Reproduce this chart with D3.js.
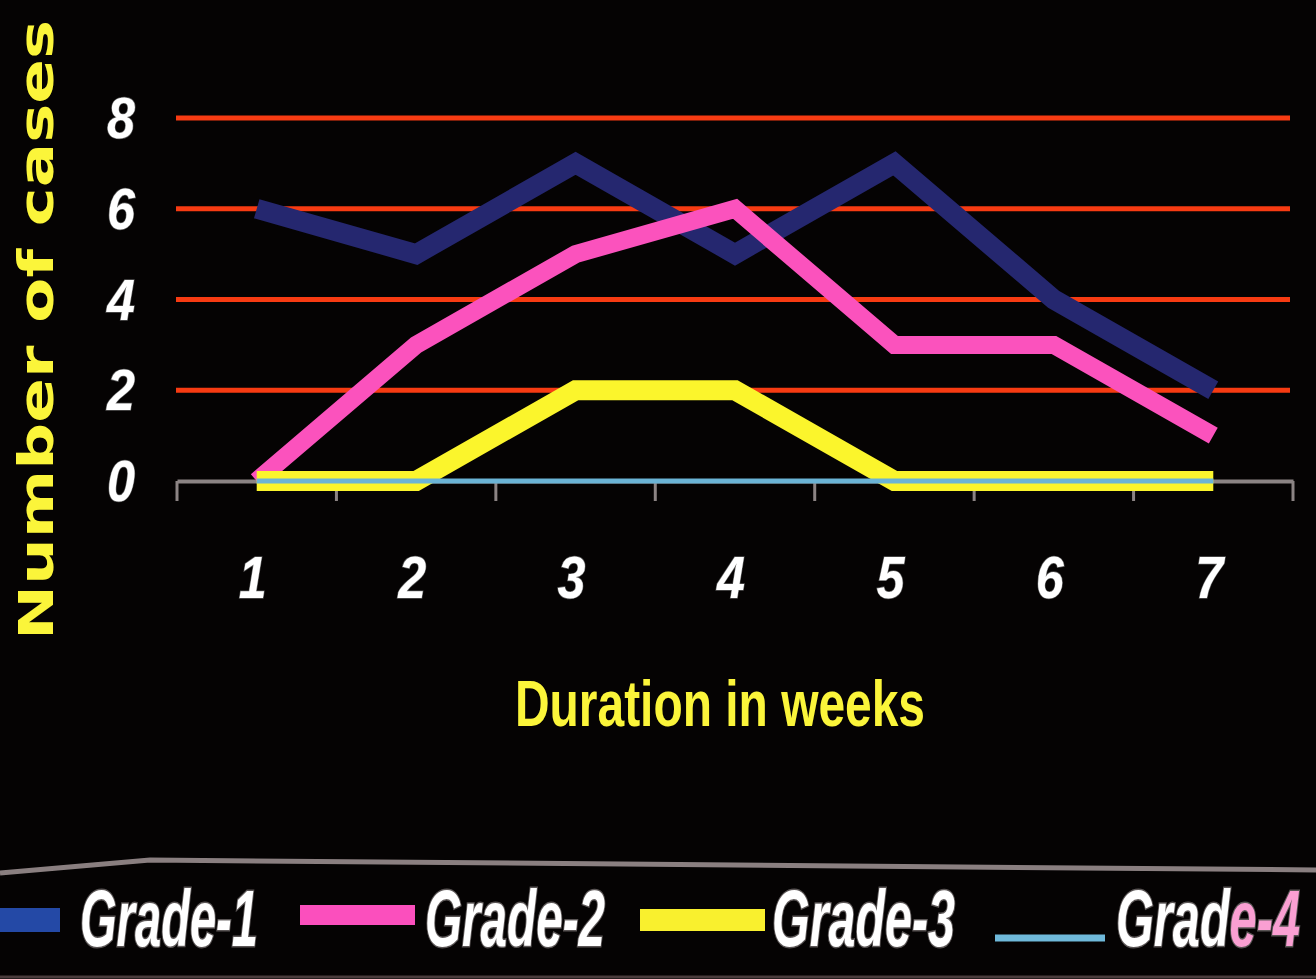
<!DOCTYPE html>
<html>
<head>
<meta charset="utf-8">
<script src="https://cdn.jsdelivr.net/npm/d3@7"></script>
<style>
  html, body { margin: 0; padding: 0; background: #050303; }
  svg { display: block; }
</style>
</head>
<body>
<svg id="chart" width="1316" height="979"></svg>
<script>
// ---- data ----
const weeks = ["1", "2", "3", "4", "5", "6", "7"];
const yTicks = [0, 2, 4, 6, 8];
const seriesNames = ["Grade-1", "Grade-2", "Grade-3", "Grade-4"];
const grade1 = [6, 5, 7, 5, 7, 4, 2];
const grade2 = [0, 3, 5, 6, 3, 3, 1];
const grade3 = [0, 0, 2, 2, 0, 0, 0];
const grade4 = [0, 0, 0, 0, 0, 0, 0];
const xTitle = "Duration in weeks";
const yTitle = "Number of cases";

// ---- styles ----
const lineColors = ["#25276f", "#fb52bd", "#fbf52c", "#6bb4d6"];
const lineWidths = [20, 18, 20, 5];
const legendColors = ["#2449a6", "#fb4fbd", "#f9f02e", "#6fb9da"];
const legendWidths = [24, 20, 22, 7];

const svg = d3.select("#chart");
svg.append("rect").attr("width", 1316).attr("height", 979).attr("fill", "#050303");

const x = d3.scaleBand().domain(weeks).range([177, 1293]).paddingInner(0).paddingOuter(0);
const y = d3.scaleLinear().domain([0, 8]).range([481, 118]);
const cx = d => x(d) + x.bandwidth() / 2;

const FONT = "'Liberation Sans', Arial, Helvetica, sans-serif";

// gridlines
svg.append("g").selectAll("line").data(yTicks.filter(t => t > 0)).join("line")
  .attr("x1", 176).attr("x2", 1290)
  .attr("y1", d => y(d)).attr("y2", d => y(d))
  .attr("stroke", "#f73b12").attr("stroke-width", 5);

// baseline axis
const axisG = svg.append("g").attr("transform", `translate(0,${y(0)})`);
axisG.call(d3.axisBottom(x).tickSize(0).tickFormat(""));
axisG.select(".domain").attr("stroke", "#8c8484").attr("stroke-width", 4);
const edges = weeks.map(w => x(w)).concat([x.range()[1]]);
svg.append("g").selectAll("line").data(edges).join("line")
  .attr("x1", d => d).attr("x2", d => d)
  .attr("y1", y(0)).attr("y2", y(0) + 20)
  .attr("stroke", "#8c8484").attr("stroke-width", 3);

// y tick labels
svg.append("g").selectAll("text").data(yTicks).join("text")
  .attr("x", 121).attr("y", d => y(d) + 20)
  .attr("text-anchor", "middle")
  .attr("textLength", 28).attr("lengthAdjust", "spacingAndGlyphs")
  .attr("font-family", FONT).attr("font-weight", "bold").attr("font-style", "italic")
  .attr("font-size", 58).attr("fill", "#ffffff")
  .attr("stroke", "#555").attr("stroke-width", 1.5).attr("paint-order", "stroke")
  .text(d => d);

// x tick labels
svg.append("g").selectAll("text").data(weeks).join("text")
  .attr("x", d => cx(d) - 4).attr("y", 598)
  .attr("text-anchor", "middle")
  .attr("textLength", 28).attr("lengthAdjust", "spacingAndGlyphs")
  .attr("font-family", FONT).attr("font-weight", "bold").attr("font-style", "italic")
  .attr("font-size", 60).attr("fill", "#ffffff")
  .attr("stroke", "#555").attr("stroke-width", 1.5).attr("paint-order", "stroke")
  .text(d => d);

// series lines
const allSeries = [grade1, grade2, grade3, grade4];
const line = d3.line().x((d, i) => cx(weeks[i])).y(d => y(d)).curve(d3.curveLinear);
svg.append("g").selectAll("path").data(allSeries).join("path")
  .attr("d", d => line(d))
  .attr("fill", "none")
  .attr("stroke", (d, i) => lineColors[i])
  .attr("stroke-width", (d, i) => lineWidths[i])
  .attr("stroke-linejoin", "miter")
  .attr("stroke-linecap", "butt");

// axis titles
svg.append("text")
  .attr("x", 720).attr("y", 726)
  .attr("text-anchor", "middle")
  .attr("textLength", 410).attr("lengthAdjust", "spacingAndGlyphs")
  .attr("font-family", FONT).attr("font-weight", "bold")
  .attr("font-size", 64).attr("fill", "#fbf53a")
  .text(xTitle);

svg.append("text")
  .attr("transform", "translate(53,330) rotate(-90)")
  .attr("text-anchor", "middle")
  .attr("textLength", 620).attr("lengthAdjust", "spacingAndGlyphs")
  .attr("font-family", "'DejaVu Sans', sans-serif").attr("font-weight", "bold")
  .attr("font-size", 48).attr("fill", "#fbf53a")
  .text(yTitle);

// legend frame lines
svg.append("path")
  .attr("d", "M0,873 L150,860 L1316,870")
  .attr("fill", "none").attr("stroke", "#8a7f80").attr("stroke-width", 5);
svg.append("line")
  .attr("x1", 0).attr("x2", 1316).attr("y1", 977).attr("y2", 977)
  .attr("stroke", "#4a3c3c").attr("stroke-width", 3);

// legend
const legendLayout = [
  { lx1: 0,   lx2: 60,   ly: 920, tx: 80,   tw: 178 },
  { lx1: 300, lx2: 415,  ly: 915, tx: 425,  tw: 180 },
  { lx1: 640, lx2: 765,  ly: 920, tx: 772,  tw: 183 },
  { lx1: 995, lx2: 1105, ly: 938, tx: 1116, tw: 184 }
];
const leg = svg.append("g").selectAll("g").data(seriesNames).join("g");
leg.append("line")
  .attr("x1", (d, i) => legendLayout[i].lx1).attr("x2", (d, i) => legendLayout[i].lx2)
  .attr("y1", (d, i) => legendLayout[i].ly).attr("y2", (d, i) => legendLayout[i].ly)
  .attr("stroke", (d, i) => legendColors[i])
  .attr("stroke-width", (d, i) => legendWidths[i]);

const styleText = t => t
  .attr("font-family", FONT).attr("font-weight", "bold").attr("font-style", "italic")
  .attr("font-size", 80)
  .attr("stroke", "#5a5555").attr("stroke-width", 3).attr("paint-order", "stroke");

leg.each(function(d, i) {
  const L = legendLayout[i];
  const g = d3.select(this).append("g");
  let parts = i === 3 ? [[d.slice(0, 4), "#ffffff"], [d.slice(4), "#fa9fd2"]] : [[d, "#ffffff"]];
  let cursor = 0;
  parts.forEach(([str, fill]) => {
    const t = styleText(g.append("text")).attr("x", cursor).attr("y", 0).attr("fill", fill).text(str);
    cursor += t.node().getComputedTextLength();
  });
  const s = L.tw / cursor;
  g.attr("transform", `translate(${L.tx},946) scale(${s},1)`);
});
</script>
</body>
</html>
